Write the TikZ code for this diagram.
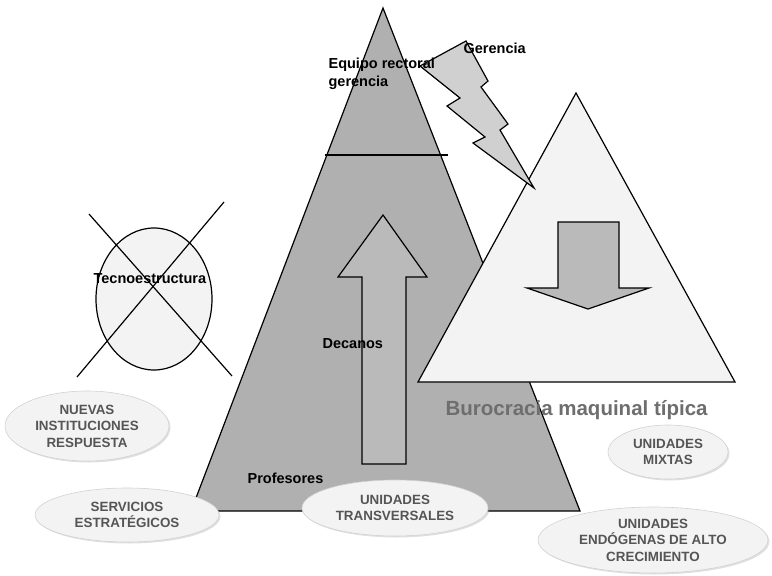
\documentclass[tikz,border=0pt]{standalone}
\usepackage{fontspec}
\setmainfont{Liberation Sans}
\usetikzlibrary{shapes.geometric,shadows}
\definecolor{piramide}{HTML}{B0B0B0}
\definecolor{flecha}{HTML}{BABABA}
\definecolor{rayo}{HTML}{D0D0D0}
\definecolor{claro}{HTML}{F3F3F3}
\definecolor{gristexto}{HTML}{555555}
\definecolor{grisburo}{HTML}{6E6E6E}
\begin{document}
\begin{tikzpicture}[x=1pt, y=-1pt, line width=1.2pt,
    etiqueta/.style={font=\fontsize{14.5}{18}\selectfont\bfseries, inner sep=0pt, anchor=base west, align=left},
    unidad/.style={ellipse, fill=claro, draw=gray!35, line width=0.6pt, text=gristexto, inner sep=0pt,
      font=\fontsize{13.4}{16.5}\selectfont\bfseries, align=center,
      drop shadow={fill=gray!70, opacity=0.35, shadow xshift=1.5pt, shadow yshift=-1.5pt}}]
  \useasboundingbox (0,0) rectangle (772,576);
  % piramide principal
  \coordinate (cima) at (383,8);
  \coordinate (baseI) at (191,511);
  \coordinate (baseD) at (580,511);
  \draw[fill=piramide] (cima) -- (baseD) -- (baseI) -- cycle;
  \coordinate (corteI) at (325,155);
  \coordinate (corteD) at (448,155);
  \draw (corteI) -- (corteD);
  \draw[fill=flecha] (383,215) -- (427,277) -- (406,277) -- (406,464) -- (362,464) -- (362,277) -- (338,277) -- cycle;
  % burocracia maquinal
  \draw[fill=claro] (576,93) -- (735,382) -- (418,382) -- cycle;
  \draw[fill=flecha] (558,222) -- (619,222) -- (619,288) -- (649,288) -- (588,309) -- (527,288) -- (558,288) -- cycle;
  \draw[fill=rayo] (420,66) -- (466,41) -- (488,81) -- (481,87) -- (508,124) -- (500,130)
    -- (534,188) -- (473,143) -- (485,137) -- (447,106) -- (460,98) -- cycle;
  % tecnoestructura
  \node[ellipse, draw, fill=claro, minimum width=116pt, minimum height=142pt, inner sep=0pt] (tecno) at (154,299) {};
  \coordinate (xa) at (89,214);
  \coordinate (xb) at (232,376);
  \coordinate (xc) at (224,202);
  \coordinate (xd) at (77,377);
  \draw (xa) -- (xb);
  \draw (xc) -- (xd);
  \node[etiqueta] (lbltecno) at (93,283) {Tecnoestructura};
  \node[etiqueta] (gerencia) at (463,53) {Gerencia};
  \node[etiqueta] (equipo) at (328,86) {Equipo rectoral\\gerencia};
  \node[etiqueta] (decanos) at (322,348) {Decanos};
  \node[etiqueta] (profesores) at (247,483) {Profesores};
  \node[anchor=base west, inner sep=0pt, text=grisburo, font=\fontsize{20.5}{24}\selectfont\bfseries] (buro) at (445,415) {Burocracia maquinal típica};
  % unidades
  \node[unidad, minimum width=164pt, minimum height=70pt] (nuevas) at (87,426) {NUEVAS\\INSTITUCIONES\\RESPUESTA};
  \node[unidad, minimum width=184pt, minimum height=54pt] (servicios) at (127,515) {SERVICIOS\\ESTRATÉGICOS};
  \node[unidad, minimum width=186pt, minimum height=56pt] (transv) at (395,508) {UNIDADES\\TRANSVERSALES};
  \node[unidad, minimum width=120pt, minimum height=54pt] (mixtas) at (668,452) {UNIDADES\\MIXTAS};
  \node[unidad, minimum width=230pt, minimum height=66pt] (endogenas) at (653,540) {UNIDADES\\ENDÓGENAS DE ALTO\\CRECIMIENTO};
\end{tikzpicture}
\end{document}
